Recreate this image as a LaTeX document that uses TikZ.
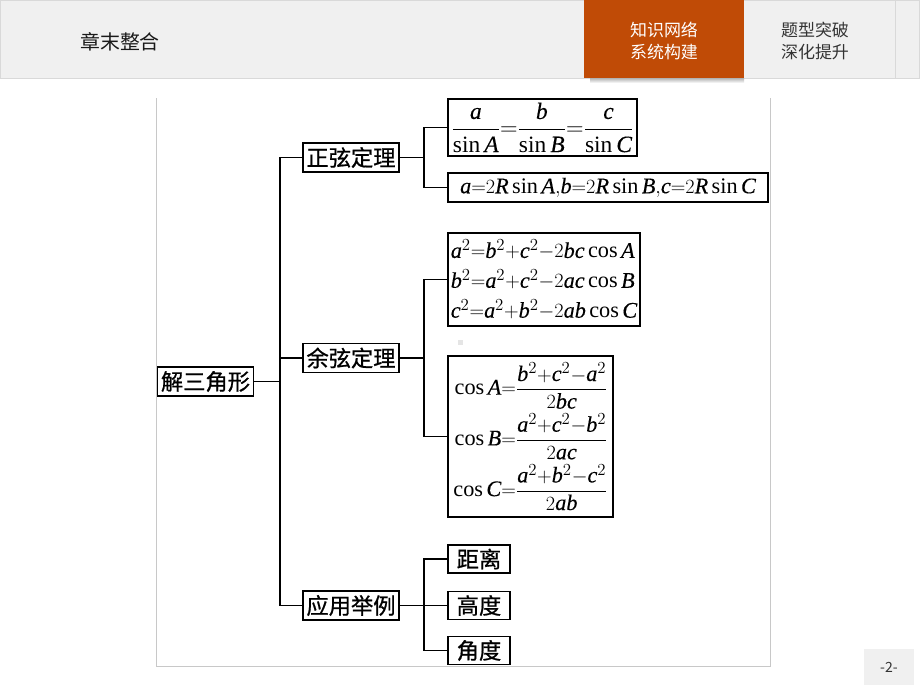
\documentclass[tikz,border=0pt]{standalone}
\usepackage{amsmath,amssymb}
\usepackage{fontspec}
\setmainfont{Liberation Serif}
\newfontfamily\cjk{Noto Sans CJK SC}
\newfontfamily\cjkbox{Noto Sans CJK SC}[FakeBold=0.8]
\newfontfamily\mathlib{Liberation Serif}[NFSSFamily=mathlib,
    UprightFeatures={FakeBold=1.2}, ItalicFeatures={FakeBold=0.2}]
\DeclareSymbolFont{mathlet}{TU}{mathlib}{m}{it}
\SetSymbolFont{operators}{normal}{TU}{mathlib}{m}{n}
\Umathcode`a=7 \symmathlet `a
\Umathcode`b=7 \symmathlet `b
\Umathcode`c=7 \symmathlet `c
\Umathcode`A=7 \symmathlet `A
\Umathcode`B=7 \symmathlet `B
\Umathcode`C=7 \symmathlet `C
\Umathcode`R=7 \symmathlet `R
\definecolor{navorange}{HTML}{C04B06}
\definecolor{barbg}{HTML}{F0F0F0}
\definecolor{barline}{HTML}{D9D9D9}
\definecolor{framegray}{HTML}{C8C8C8}
\definecolor{navtext}{HTML}{333333}

\begin{document}
\begin{tikzpicture}%
        [x=0.03cm, y=-0.03cm,
        box/.style={draw=black, line width=1.6pt, inner sep=0pt, fill=white},
        word/.style={box, minimum width=2.88cm, minimum height=0.87cm, font=\cjkbox\fontsize{19}{19}\selectfont},
        short/.style={box, minimum width=1.86cm, minimum height=0.84cm, font=\cjkbox\fontsize{19}{19}\selectfont},
        formula/.style={box, font=\fontsize{19}{22}\selectfont},
        link/.style={line width=1.6pt, line join=miter}]

    \useasboundingbox (0,0) rectangle (920,690);
    %% Header bar
    \fill[barbg] (0,0) rectangle (920,78);
    \draw[barline] (0.5,0.5) rectangle (919.5,78);
    \shade[top color=gray!60, bottom color=white] (590,78) rectangle (744,83);
    \fill[navorange] (584,0) rectangle (744,78);
    \draw[barline] (895,0) -- (895,78);
    \node[font=\cjk\fontsize{17}{17}\selectfont, text=black!90] (title) at (120,42) {章末整合};
    \node[font=\cjk\fontsize{14.5}{18.7}\selectfont, text=white, align=center] (nav) at (664,41) {知识网络\\系统构建};
    \node[font=\cjk\fontsize{14.5}{18.7}\selectfont, text=navtext, align=center] (navb) at (815,41) {题型突破\\深化提升};
    %% Frame and page number
    \draw[framegray] (156,98) -- (156,666) -- (770,666) -- (770,98);
    \fill[barbg] (864,649) rectangle (914,685);
    \node[font=\cjk\fontsize{12}{12}\selectfont, text=navtext] (page) at (889,667) {-2-};
    %%
    %% Drawing the boxes
    %%
    \node[word] (jie) at (205.5,381.5) {解三角形};
    \node[word] (zx) at (351,157.5) {正弦定理};
    \node[word] (yx) at (351,358) {余弦定理};
    \node[word] (yy) at (351,605.5) {应用举例};
    \node[formula, minimum width=5.67cm, minimum height=1.71cm, font=\fontsize{20}{22}\selectfont] (f1) at (542.5,127.5)
        {$\dfrac{a}{\sin A}{=}\dfrac{b}{\sin B}{=}\dfrac{c}{\sin C}$};
    \node[formula, minimum width=9.6cm, minimum height=0.87cm] (f2) at (608,187.5)
        {$a{=}2R\sin A{,}b{=}2R\sin B{,}c{=}2R\sin C$};
    \node[formula, minimum width=5.76cm, minimum height=2.79cm, align=left,
        font=\fontsize{19}{25.5}\selectfont] (f3) at (544,279.5)
        {$a^2{=}b^2{+}c^2{-}2bc\cos A$\\$b^2{=}a^2{+}c^2{-}2ac\cos B$\\$c^2{=}a^2{+}b^2{-}2ab\cos C$};
    \node[formula, minimum width=4.95cm, minimum height=4.83cm] (f4) at (530.5,436.5)
        {$\begin{aligned}
            \cos A&{=}\dfrac{b^2{+}c^2{-}a^2}{2bc}\\
            \cos B&{=}\dfrac{a^2{+}c^2{-}b^2}{2ac}\\
            \cos C&{=}\dfrac{a^2{+}b^2{-}c^2}{2ab}
        \end{aligned}$};
    \node[short] (jl) at (479,559) {距离};
    \node[short] (gd) at (479,605.5) {高度};
    \node[short] (jd) at (479,650.5) {角度};
    \fill[gray!20] (457.5,339.5) rectangle (462.5,344.5);
    %%
    %% Drawing the links
    %%
    \coordinate (tk) at (280,0);
    \coordinate (br) at (424,0);
    \draw[link] (zx.west) -- (zx.west -| tk) -- (yy.west -| tk) -- (yy.west);
    \draw[link] (jie.east) -- (jie.east -| tk);
    \draw[link] (yx.west) -- (yx.west -| tk);
    \draw[link] (f1.west) -- (f1.west -| br) -- (f2.west -| br) -- (f2.west);
    \draw[link] (zx.east) -- (zx.east -| br);
    \draw[link] (f3.west) -- (f3.west -| br) -- (f4.west -| br) -- (f4.west);
    \draw[link] (yx.east) -- (yx.east -| br);
    \draw[link] (jl.west) -- (jl.west -| br) -- (jd.west -| br) -- (jd.west);
    \draw[link] (yy.east) -- (gd.west);
    %%
\end{tikzpicture}
\end{document}
